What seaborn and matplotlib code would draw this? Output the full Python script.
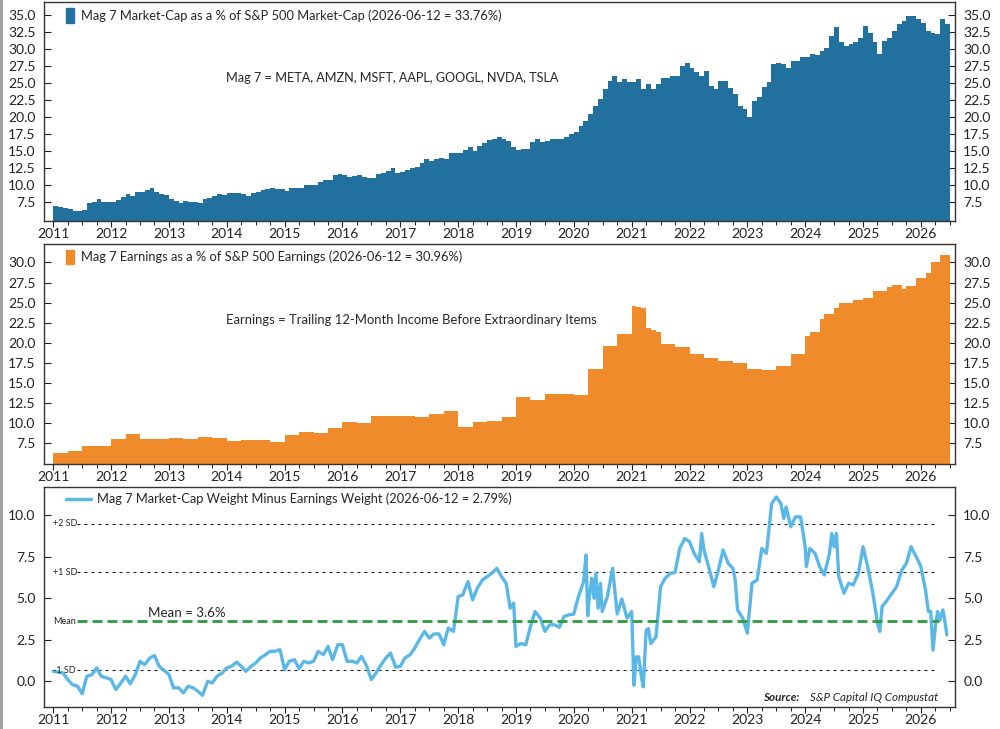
import numpy as np
import pandas as pd
import matplotlib
matplotlib.use("Agg")
import matplotlib.pyplot as plt
import seaborn as sns
from matplotlib.patches import Patch
from matplotlib.lines import Line2D
from matplotlib.ticker import MultipleLocator, FuncFormatter, FixedLocator

# Mag 7 market-cap as % of S&P 500 market-cap, monthly Jan 2011 - Jun 2026
mcap_pct = [
    6.9, 6.7, 6.6, 6.4, 6.2, 6.2, 6.3, 7.4, 7.5, 7.9, 7.45, 7.45,          # 2011
    7.45, 7.8, 8.3, 8.7, 8.4, 9.0, 9.0, 9.2, 9.5, 9.0, 8.7, 8.5,           # 2012
    8.0, 7.65, 7.4, 7.65, 7.55, 7.55, 7.3, 8.0, 8.1, 8.4, 8.7, 8.6,        # 2013
    8.9, 8.8, 8.9, 8.7, 8.4, 8.8, 9.0, 9.3, 9.4, 9.5, 9.45, 9.4,           # 2014
    9.1, 9.5, 9.6, 9.6, 9.95, 9.95, 10.0, 10.5, 10.7, 10.8, 11.5, 11.6,    # 2015
    11.5, 11.2, 11.4, 11.5, 11.2, 11.0, 11.1, 11.6, 11.7, 12.1, 12.45, 11.8,  # 2016
    11.85, 12.2, 12.45, 12.7, 13.2, 13.8, 13.6, 13.9, 14.0, 13.8, 14.75, 14.65,  # 2017
    14.65, 15.15, 15.6, 15.05, 15.75, 16.2, 16.6, 16.85, 17.1, 16.8, 16.5, 15.6,  # 2018
    15.1, 15.3, 15.3, 16.3, 16.8, 16.3, 16.5, 16.8, 16.8, 16.8, 17.1, 17.5,  # 2019
    17.8, 18.7, 19.5, 20.5, 21.7, 22.7, 24.1, 25.3, 26.1, 25.1, 25.6, 25.1,  # 2020
    25.1, 25.6, 24.1, 24.9, 24.1, 24.9, 25.8, 25.8, 26.1, 26.1, 27.5, 28.0,  # 2021
    27.3, 26.6, 26.1, 26.8, 24.6, 24.1, 25.3, 25.3, 24.3, 23.4, 21.7, 21.2,  # 2022
    20.0, 22.4, 22.9, 24.4, 25.1, 27.8, 28.0, 27.8, 27.3, 28.3, 28.3, 28.8,  # 2023
    28.8, 29.3, 29.2, 29.7, 30.2, 31.9, 33.2, 31.0, 30.5, 30.7, 31.0, 31.7,  # 2024
    33.4, 32.4, 31.0, 29.3, 31.2, 31.7, 32.7, 33.7, 34.2, 34.9, 34.9, 34.4,  # 2025
    33.9, 32.7, 32.4, 32.2, 34.4, 33.76,                                     # 2026
]

# Mag 7 earnings as % of S&P 500 earnings, monthly Jan 2011 - Jun 2026
earn_pct = [
    6.25, 6.25, 6.25, 6.5, 6.5, 6.5, 7.1, 7.1, 7.1, 7.2, 7.2, 7.2,
    8.0, 8.0, 8.0, 8.6, 8.6, 8.6, 8.05, 8.05, 8.05, 8.0, 8.0, 8.0,
    8.2, 8.2, 8.2, 8.0, 8.0, 8.0, 8.3, 8.3, 8.3, 8.1, 8.1, 8.1,
    7.8, 7.8, 7.8, 7.85, 7.85, 7.85, 7.85, 7.85, 7.85, 7.7, 7.7, 7.7,
    8.5, 8.5, 8.5, 8.9, 8.9, 8.9, 8.75, 8.75, 8.75, 9.4, 9.4, 9.4,
    10.15, 10.15, 10.15, 10.05, 10.05, 10.05, 10.85, 10.85, 10.85, 10.85, 10.85, 10.85,
    10.85, 10.85, 10.85, 10.8, 10.8, 10.8, 11.15, 11.15, 11.15, 11.5, 11.5, 11.5,
    9.45, 9.45, 9.45, 10.15, 10.15, 10.15, 10.3, 10.3, 10.3, 10.7, 10.7, 10.7,
    13.3, 13.3, 13.3, 12.9, 12.9, 12.9, 13.6, 13.6, 13.6, 13.6, 13.6, 13.6,
    13.5, 13.5, 13.5, 16.7, 16.7, 16.7, 19.6, 19.6, 19.6, 21.1, 21.1, 21.1,
    24.6, 24.4, 24.3, 21.8, 21.6, 21.3, 19.85, 19.85, 19.85, 19.5, 19.5, 19.5,
    18.6, 18.6, 18.6, 18.1, 18.1, 18.1, 17.75, 17.75, 17.75, 17.45, 17.45, 17.45,
    16.7, 16.7, 16.7, 16.65, 16.65, 16.65, 17.1, 17.1, 17.1, 18.6, 18.6, 18.6,
    20.8, 21.3, 21.3, 23.0, 23.6, 23.6, 24.3, 24.9, 24.9, 25.0, 25.3, 25.3,
    25.6, 25.6, 26.4, 26.5, 26.5, 27.0, 27.2, 27.2, 26.7, 27.1, 27.1, 28.1,
    28.1, 28.7, 30.0, 30.0, 30.96, 30.96,
]

# Market-cap weight minus earnings weight (decimal year, value)
diff_dates = [
    2011.00, 2011.08, 2011.17, 2011.25, 2011.33, 2011.42, 2011.50, 2011.58, 2011.67, 2011.75, 2011.83, 2011.92,
    2012.00, 2012.08, 2012.17, 2012.25, 2012.33, 2012.42, 2012.50, 2012.58, 2012.67, 2012.75, 2012.83, 2012.92,
    2013.00, 2013.08, 2013.17, 2013.25, 2013.33, 2013.42, 2013.50, 2013.58, 2013.67, 2013.75, 2013.83, 2013.92,
    2014.00, 2014.08, 2014.17, 2014.25, 2014.33, 2014.42, 2014.50, 2014.58, 2014.67, 2014.75, 2014.83, 2014.92,
    2015.00, 2015.08, 2015.17, 2015.25, 2015.33, 2015.42, 2015.50, 2015.58, 2015.67, 2015.75, 2015.83, 2015.92,
    2016.00, 2016.08, 2016.17, 2016.25, 2016.33, 2016.42, 2016.50, 2016.58, 2016.67, 2016.75, 2016.83, 2016.92,
    2017.00, 2017.08, 2017.17, 2017.25, 2017.33, 2017.42, 2017.50, 2017.58, 2017.67, 2017.75, 2017.83, 2017.92,
    2018.00, 2018.08, 2018.17, 2018.25, 2018.33, 2018.42, 2018.50, 2018.58, 2018.67, 2018.75, 2018.83, 2018.90,
    2018.96, 2019.00, 2019.08, 2019.17, 2019.25, 2019.33, 2019.42, 2019.50, 2019.58, 2019.67, 2019.75, 2019.83,
    2019.92, 2020.00, 2020.08, 2020.17, 2020.21, 2020.24, 2020.27, 2020.31, 2020.35, 2020.38, 2020.42, 2020.46,
    2020.49, 2020.58, 2020.67, 2020.75, 2020.83, 2020.92, 2021.00, 2021.04, 2021.08, 2021.12, 2021.17, 2021.20,
    2021.25, 2021.29, 2021.33, 2021.42, 2021.50, 2021.58, 2021.67, 2021.75, 2021.83, 2021.92, 2022.00, 2022.08,
    2022.17, 2022.21, 2022.25, 2022.33, 2022.42, 2022.50, 2022.58, 2022.67, 2022.75, 2022.79, 2022.83, 2022.92,
    2023.00, 2023.08, 2023.17, 2023.25, 2023.33, 2023.42, 2023.50, 2023.58, 2023.63, 2023.67, 2023.75, 2023.83,
    2023.92, 2024.00, 2024.02, 2024.08, 2024.17, 2024.25, 2024.33, 2024.42, 2024.46, 2024.50, 2024.54, 2024.58,
    2024.67, 2024.75, 2024.83, 2024.92, 2025.00, 2025.08, 2025.17, 2025.25, 2025.29, 2025.33, 2025.42, 2025.50,
    2025.58, 2025.67, 2025.75, 2025.83, 2025.92, 2026.00, 2026.08, 2026.13, 2026.17, 2026.21, 2026.25, 2026.29,
    2026.33, 2026.38, 2026.42, 2026.45,
]
diff_vals = [
    0.6, 0.55, 0.5, 0.1, -0.2, -0.3, -0.75, 0.3, 0.4, 0.8, 0.3, 0.2,
    0.1, -0.5, -0.1, 0.3, -0.15, 0.4, 1.2, 1.0, 1.4, 1.55, 0.9, 0.65,
    0.4, -0.4, -0.4, -0.7, -0.3, -0.4, -0.6, -0.85, 0.0, -0.1, 0.3, 0.5,
    0.8, 0.9, 1.15, 0.9, 0.6, 0.9, 1.1, 1.4, 1.6, 1.8, 1.8, 1.9,
    0.7, 1.2, 1.3, 0.75, 1.2, 1.1, 1.2, 1.8, 1.6, 2.1, 1.3, 2.2,
    2.2, 1.2, 1.2, 1.1, 1.5, 0.9, 0.1, 0.5, 1.0, 1.4, 1.7, 0.85,
    0.9, 1.4, 1.6, 2.0, 2.5, 3.0, 2.6, 2.85, 2.85, 2.2, 3.2, 3.0,
    5.1, 5.2, 6.0, 4.9, 5.6, 6.1, 6.3, 6.5, 6.8, 6.3, 5.9, 4.4,
    4.7, 2.1, 2.27, 2.2, 3.3, 4.2, 3.8, 3.0, 3.4, 3.4, 3.25, 3.9,
    4.0, 4.05, 5.1, 6.0, 7.6, 3.95, 5.1, 6.2, 5.0, 6.5, 4.4, 5.9,
    4.2, 5.1, 6.8, 4.05, 4.95, 3.8, 4.2, -0.24, 1.47, 1.47, 0.26, -0.34,
    3.07, 3.17, 2.27, 2.67, 5.7, 6.2, 6.5, 6.55, 8.0, 8.6, 8.4, 7.7,
    7.2, 8.9, 7.9, 6.9, 5.7, 6.7, 7.9, 7.1, 6.8, 6.1, 4.3, 3.8,
    2.9, 5.9, 6.1, 8.0, 7.7, 10.7, 11.1, 10.7, 9.8, 10.5, 9.3, 9.9,
    9.9, 8.1, 6.9, 8.0, 7.7, 6.9, 6.4, 7.7, 8.9, 8.1, 8.9, 6.3,
    5.3, 5.9, 5.8, 6.5, 8.1, 6.9, 5.3, 3.5, 3.0, 4.5, 4.9, 5.3,
    5.7, 6.7, 7.1, 8.1, 7.5, 6.9, 5.5, 4.2, 4.2, 1.87, 3.27, 4.2,
    3.7, 4.3, 3.5, 2.79,
]

diff_mean = 3.6
diff_sd = 2.95
sd_levels = [diff_mean + 2 * diff_sd, diff_mean + diff_sd, diff_mean - diff_sd]
sd_labels = ["+2 SD", "+1 SD", "-1 SD"]

BLUE = "#22709e"
ORANGE = "#f08b2b"
LIGHTBLUE = "#5bb8e6"
GREEN = "#2e9a3e"

n = len(mcap_pct)
edges = [2011 + i / 12 for i in range(n + 1)]
centers = 2011 + np.arange(n) / 12 + 1 / 24
df = pd.DataFrame({"t": centers, "mcap": mcap_pct, "earn": earn_pct})

sns.set_theme(style="ticks")
plt.rcParams["font.family"] = ["Lato", "DejaVu Sans"]

fig = plt.figure(figsize=(10, 7.29), dpi=100)
ax1 = fig.add_axes([0.044, 0.6968, 0.911, 0.300])
ax2 = fig.add_axes([0.044, 0.3635, 0.911, 0.3018])
ax3 = fig.add_axes([0.044, 0.0302, 0.911, 0.3018])

# bars via histplot weights (one bin per month)
sns.histplot(data=df, x="t", weights="mcap", bins=edges, color=BLUE, alpha=1,
             linewidth=0, ax=ax1)
sns.histplot(data=df, x="t", weights="earn", bins=edges, color=ORANGE, alpha=1,
             linewidth=0, ax=ax2)

# difference line with mean / SD bands
for y, lab in zip(sd_levels, sd_labels):
    ax3.hlines(y, 2011.41, 2026.29, colors="k", linestyles=(0, (2.7, 3.6)), linewidth=0.8, zorder=1)
    ax3.text(2011.0, y, lab, fontsize=6.5, va="center", ha="left", color="#222222")
ax3.text(2011.0, diff_mean, "Mean", fontsize=6.5, va="center", ha="left", color="#222222")
sns.lineplot(x=diff_dates, y=diff_vals, color=LIGHTBLUE, linewidth=2.4, ax=ax3, zorder=2)
ax3.hlines(diff_mean, 2011.41, 2026.31, colors=GREEN, linestyles=(0, (3.6, 1.8)), linewidth=2, zorder=3)
ax3.text(2012.64, diff_mean + 0.12, "Mean = 3.6%", fontsize=9.6, va="bottom", ha="left")

years = FuncFormatter(lambda v, _: f"{int(round(v))}")
onedec = FuncFormatter(lambda v, _: f"{v:.1f}")

setups = [
    (ax1, (4.7, 36.9), np.arange(7.5, 35.1, 2.5)),
    (ax2, (4.9, 32.3), np.arange(7.5, 30.1, 2.5)),
    (ax3, (-1.55, 11.7), np.arange(0, 10.1, 2.5)),
]
for ax, ylim, yt in setups:
    ax.set_xlim(2010.84, 2026.59)
    ax.set_ylim(*ylim)
    ax.xaxis.set_major_locator(MultipleLocator(1))
    ax.xaxis.set_minor_locator(MultipleLocator(0.25))
    ax.xaxis.set_major_formatter(years)
    ax.yaxis.set_major_locator(FixedLocator(yt))
    ax.yaxis.set_major_formatter(onedec)
    ax.set_xlabel("")
    ax.set_ylabel("")
    ax.tick_params(which="both", labelsize=10, colors="#222222")
    ax.tick_params(axis="x", which="major", direction="out", length=4, width=0.8, pad=1)
    ax.tick_params(axis="x", which="minor", direction="out", length=3, width=0.7)
    ax.tick_params(axis="y", which="major", direction="in", length=5, width=0.8, pad=6,
                   left=True, right=True, labelleft=True, labelright=True)
    for sp in ax.spines.values():
        sp.set_visible(True)
        sp.set_color("#333333")
        sp.set_linewidth(1)

leg_kw = dict(loc="upper left", bbox_to_anchor=(0.016, 1.01), frameon=False, fontsize=9.3,
              handletextpad=0.5, borderaxespad=0.2)
ax1.legend([Patch(color=BLUE)],
           ["Mag 7 Market-Cap as a % of S&P 500 Market-Cap (2026-06-12 = 33.76%)"],
           handlelength=0.6, handleheight=1.4, **leg_kw)
ax2.legend([Patch(color=ORANGE)],
           ["Mag 7 Earnings as a % of S&P 500 Earnings (2026-06-12 = 30.96%)"],
           handlelength=0.6, handleheight=1.4, **leg_kw)
ax3.legend([Line2D([], [], color=LIGHTBLUE, lw=2.5)],
           ["Mag 7 Market-Cap Weight Minus Earnings Weight (2026-06-12 = 2.79%)"],
           handlelength=1.9, **leg_kw)

ax1.text(2013.99, 25.7, "Mag 7 = META, AMZN, MSFT, AAPL, GOOGL, NVDA, TSLA",
         fontsize=9.1, va="center", ha="left")
ax2.text(2013.99, 22.8, "Earnings = Trailing 12-Month Income Before Extraordinary Items",
         fontsize=9.4, va="center", ha="left")

# source note, bottom right of last panel
src = ax3.text(0.982, 0.045, "S&P Capital IQ Compustat", style="italic", fontsize=8.4,
               ha="right", va="center", transform=ax3.transAxes)
fig.canvas.draw()
bb = src.get_window_extent().transformed(ax3.transAxes.inverted())
ax3.text(bb.x0 - 0.012, 0.045, "Source:", style="italic", weight="bold", fontsize=8.4,
         ha="right", va="center", transform=ax3.transAxes)

fig.add_artist(Line2D([0.001, 0.001], [0, 1], color="#999999", lw=2, transform=fig.transFigure))

fig.savefig("out.png", dpi=100)
